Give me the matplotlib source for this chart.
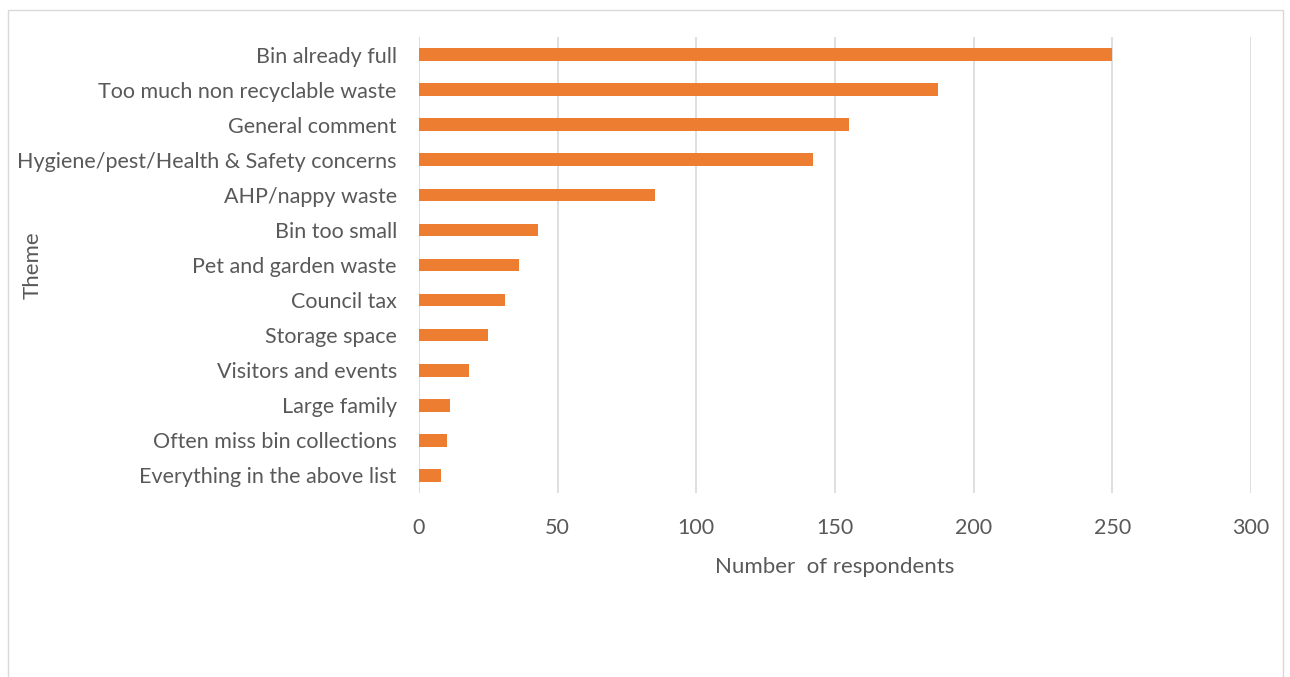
import matplotlib
matplotlib.use("Agg")
import matplotlib.pyplot as plt
from matplotlib.patches import Rectangle

categories = [
    "Bin already full",
    "Too much non recyclable waste",
    "General comment",
    "Hygiene/pest/Health & Safety concerns",
    "AHP/nappy waste",
    "Bin too small",
    "Pet and garden waste",
    "Council tax",
    "Storage space",
    "Visitors and events",
    "Large family",
    "Often miss bin collections",
    "Everything in the above list",
]
values = [250, 187, 155, 142, 85, 43, 36, 31, 25, 18, 11, 10, 8]
xticks = [0, 50, 100, 150, 200, 250, 300]

plt.rcParams['font.family'] = ['Lato', 'DejaVu Sans']
text_color = "#595959"

W, H = 1290, 677
fig = plt.figure(figsize=(W / 100, H / 100), dpi=100)
fig.patch.set_facecolor("white")

# outer chart border
fig.add_artist(Rectangle((8 / W, -0.1), (1283 - 8) / W, 1.1 - 10 / H,
                         transform=fig.transFigure, fill=False,
                         edgecolor="#D9D9D9", linewidth=1))

left, right, top, bottom = 419, 1251, 37, 493
ax = fig.add_axes([left / W, 1 - bottom / H, (right - left) / W, (bottom - top) / H])

y = list(range(len(categories)))
ax.barh(y, values, height=0.36, color="#ED7D31", zorder=3)
ax.set_ylim(len(categories) - 0.5, -0.5)
ax.set_xlim(0, 300)
ax.set_xticks(xticks)
ax.set_xticklabels([str(t) for t in xticks])
ax.set_yticks(y)
ax.set_yticklabels(categories)

ax.grid(axis="x", color="#D9D9D9", linewidth=1.2, zorder=0)
for s in ax.spines.values():
    s.set_visible(False)
ax.tick_params(axis="both", length=0, colors=text_color, labelsize=15.5)
ax.tick_params(axis="x", pad=18)
ax.tick_params(axis="y", pad=16)

ax.set_xlabel("Number  of respondents", fontsize=16, color=text_color, labelpad=14)
ax.set_ylabel("Theme", fontsize=16, color=text_color)
ax.yaxis.set_label_coords(-0.452, 0.5)

fig.savefig("out.png", dpi=100, facecolor="white")
